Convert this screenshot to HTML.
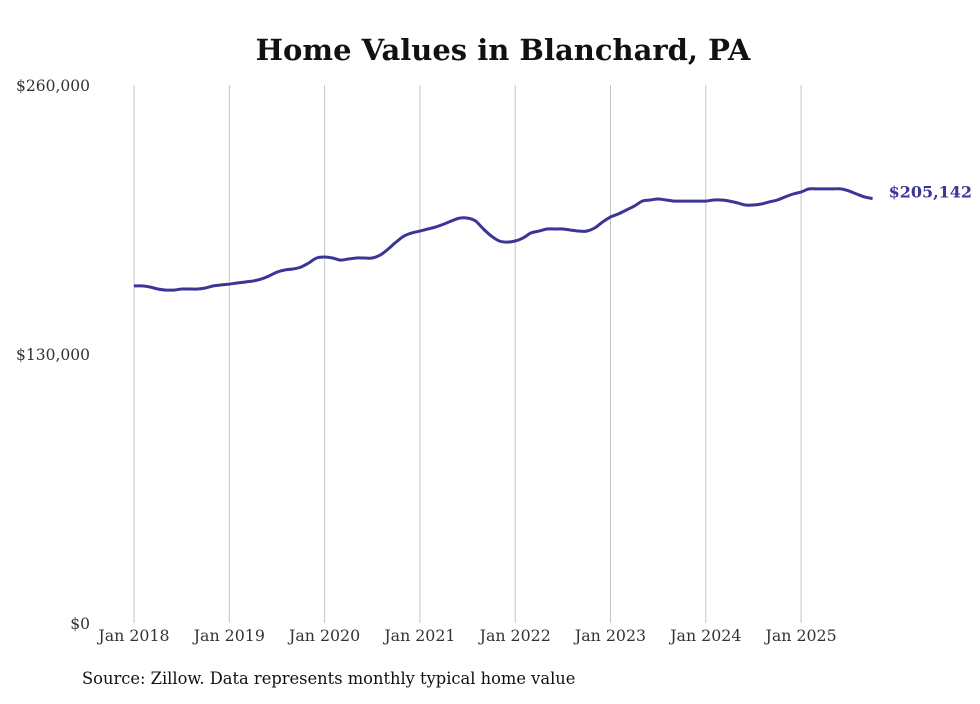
<!DOCTYPE html>
<html><head><meta charset="utf-8"><style>
body{margin:0;background:#fff;}
svg text{font-family:"DejaVu Serif","Liberation Serif",serif;}
</style></head><body>
<svg id="chart" width="980" height="699" xmlns="http://www.w3.org/2000/svg">
<text x="503" y="60" text-anchor="middle" font-size="29" font-weight="bold" fill="#111">Home Values in Blanchard, PA</text>
<g id="grid"></g><g id="axes"></g>
<path id="line" fill="none" stroke="#3b3596" stroke-width="3" stroke-linejoin="round"/>
<text id="endlabel" font-size="16" font-weight="bold" fill="#3b3596"></text>
<text x="82" y="684" font-size="16.3" fill="#111">Source: Zillow. Data represents monthly typical home value</text>
</svg>
<script>
const yearLabels=["Jan 2018","Jan 2019","Jan 2020","Jan 2021","Jan 2022","Jan 2023","Jan 2024","Jan 2025"];
const yTicks=[0,130000,260000];
const yTickLabels=["$0","$130,000","$260,000"];
const values2018=[162.9,162.9,162.4,161.4,160.9,160.9,161.4,161.4,161.4,161.9,162.9,163.4];
const values2019=[163.8,164.3,164.8,165.3,166.2,167.7,169.6,170.6,171.1,172.0,174.0,176.4];
const values2020=[176.9,176.4,175.4,175.9,176.4,176.4,176.4,177.8,180.7,184.1,187.0,188.5];
const values2021=[189.4,190.4,191.4,192.8,194.3,195.7,195.7,194.3,190.4,187.0,184.6,184.1];
const values2022=[184.6,186.1,188.5,189.4,190.4,190.4,190.4,189.9,189.4,189.4,190.9,193.8];
const values2023=[196.2,197.7,199.6,201.5,203.9,204.4,204.9,204.4,203.9,203.9,203.9,203.9];
const values2024=[203.9,204.4,204.4,203.9,203.0,202.0,202.0,202.5,203.5,204.4,205.9,207.3];
const values2025=[208.3,209.8,209.8,209.8,209.8,209.8,208.8,207.3,205.9,205.142];
const values=[].concat(values2018,values2019,values2020,values2021,values2022,values2023,values2024,values2025).map(v=>v*1000);
const NS="http://www.w3.org/2000/svg";
const x0=134,pxPerMonth=95.3/12,y0=623,yTop=85,yMax=260000;
const xs=i=>x0+i*pxPerMonth;
const ys=v=>y0-(v/yMax)*(y0-yTop);
const grid=document.getElementById('grid'),axes=document.getElementById('axes');
yearLabels.forEach((lab,k)=>{
 const x=xs(k*12);
 const l=document.createElementNS(NS,'line');
 l.setAttribute('x1',x);l.setAttribute('x2',x);l.setAttribute('y1',yTop);l.setAttribute('y2',y0);
 l.setAttribute('stroke','#c4c4c4');l.setAttribute('stroke-width','1');
 
 
 grid.appendChild(l);
 const t=document.createElementNS(NS,'text');
 t.setAttribute('x',x);t.setAttribute('y',y0+18);t.setAttribute('text-anchor','middle');
 t.setAttribute('font-size','15.8');t.setAttribute('fill','#333');t.textContent=lab;
 
 
 axes.appendChild(t);
});
yTicks.forEach((v,k)=>{
 const t=document.createElementNS(NS,'text');
 t.setAttribute('x',90);t.setAttribute('y',ys(v)+6);t.setAttribute('text-anchor','end');
 t.setAttribute('font-size','15.5');t.setAttribute('fill','#333');t.textContent=yTickLabels[k];
 
 
 axes.appendChild(t);
});
const pts=values.map((v,i)=>[xs(i),ys(v)]);
let d='M'+pts[0][0].toFixed(1)+','+pts[0][1].toFixed(1);
for(let i=0;i<pts.length-1;i++){
 const p0=pts[Math.max(i-1,0)],p1=pts[i],p2=pts[i+1],p3=pts[Math.min(i+2,pts.length-1)];
 const c1=[p1[0]+(p2[0]-p0[0])/6,p1[1]+(p2[1]-p0[1])/6];
 const c2=[p2[0]-(p3[0]-p1[0])/6,p2[1]-(p3[1]-p1[1])/6];
 d+='C'+c1.map(n=>n.toFixed(1)).join(',')+' '+c2.map(n=>n.toFixed(1)).join(',')+' '+p2.map(n=>n.toFixed(1)).join(',');
}
document.getElementById('line').setAttribute('d',d);
const last=values.length-1,el=document.getElementById('endlabel');
el.setAttribute('x',xs(last)+16);el.setAttribute('y',ys(values[last])-1);
el.textContent='$'+Math.round(values[last]).toLocaleString('en-US');
</script>
</body></html>
